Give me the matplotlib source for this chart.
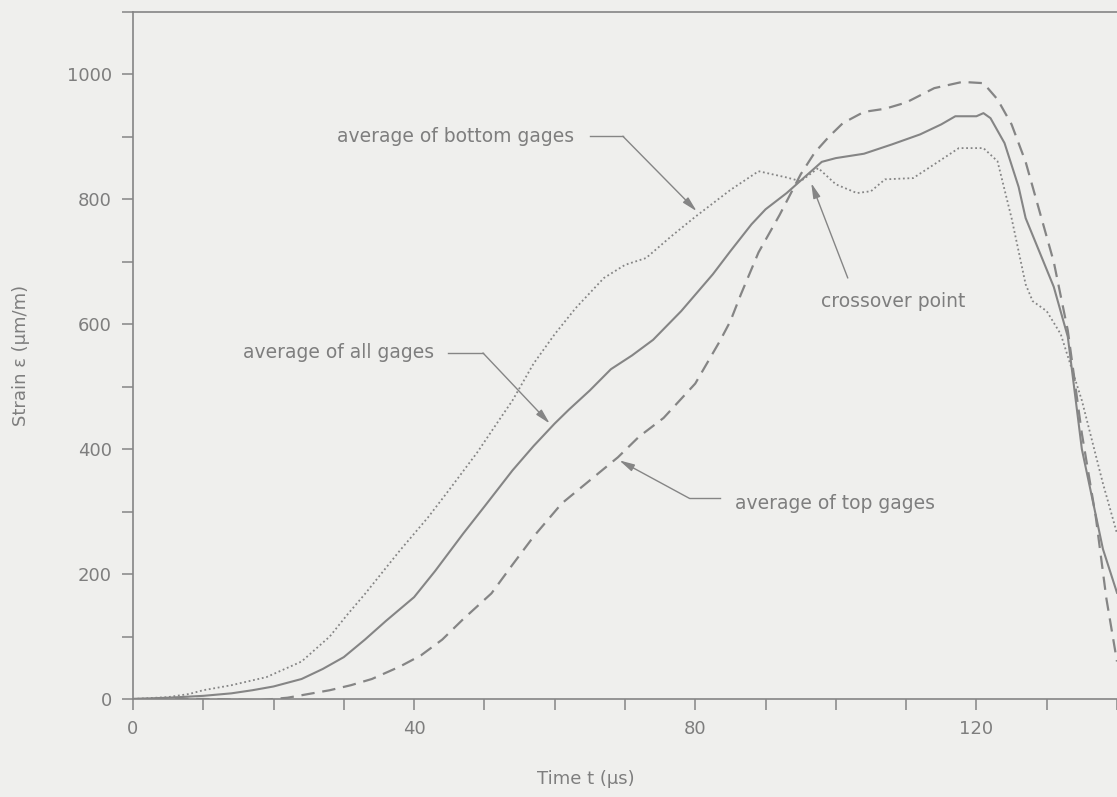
import matplotlib
matplotlib.use('Agg')
import matplotlib.pyplot as plt
from matplotlib.ticker import MultipleLocator, FuncFormatter

# average of all gages (solid)
t_all = [0, 5, 10, 14, 17, 20, 24, 27, 30, 33, 36, 40, 43, 47, 50, 54, 57, 60, 62, 65,
         68, 71, 74, 78, 82.5, 85, 88, 90, 93, 96, 98, 100, 104, 108, 112, 115, 117, 120, 121,
         122, 124, 126, 127, 129, 131, 133, 135, 138, 140]
eps_all = [0, 2, 5, 9, 14, 20, 32, 48, 67, 95, 125, 163, 205, 265, 308, 366, 405, 441, 463, 494,
           528, 550, 575, 621, 680, 717, 760, 784, 810, 840, 860, 866, 873, 888, 904, 920, 933, 933, 938,
           930, 890, 820, 770, 715, 660, 580, 400, 240, 170]

# average of top gages (dashed)
t_top = [0, 10, 18, 22, 25, 28, 31, 34, 38, 41, 44, 47, 51, 54, 57, 61, 65, 69, 72, 75.5,
         80, 83.5, 85, 86.5, 89, 92, 95, 97, 99, 101, 104, 107, 110, 114, 118, 121, 123, 125,
         127, 129, 131, 133, 135, 137, 138.5, 140]
eps_top = [0, 0, -2, 2, 8, 14, 22, 32, 52, 70, 95, 128, 169, 215, 260, 313, 350, 387, 420, 450,
           505, 573, 605, 648, 715, 775, 840, 875, 900, 922, 940, 945, 955, 978, 988, 986, 960, 920,
           860, 780, 700, 590, 425, 290, 160, 60]

# average of bottom gages (dotted)
t_bot = [0, 5, 8, 10, 14, 19, 24, 28, 30.5, 33, 38, 42, 45, 49, 52, 54, 57, 60, 63, 67,
         70, 73, 76.5, 80, 85, 89, 91, 93, 95, 97.5, 100, 103, 105, 107, 111, 114, 117.5, 121, 123,
         125, 127, 128, 130, 132, 135, 138, 140]
eps_bot = [0, 3, 8, 14, 22, 35, 60, 100, 135, 168, 238, 291, 335, 395, 445, 478, 537, 584, 626, 674,
           695, 706, 740, 772, 815, 845, 840, 835, 829, 850, 824, 810, 813, 832, 834, 856, 882, 882, 861,
           770, 664, 637, 621, 584, 478, 345, 265]

bg = '#efefed'
ink = '#858585'
txt = '#7e7e7e'

fig = plt.figure(figsize=(11.17, 7.97), dpi=100, facecolor=bg)
ax = fig.add_axes([0.119, 0.123, 0.881, 0.862], facecolor=bg)

ax.plot(t_all, eps_all, color=ink, lw=1.5, linestyle='-')
ax.plot(t_top, eps_top, color=ink, lw=1.6, linestyle=(0, (6, 3.5)))
ax.plot(t_bot, eps_bot, color=ink, lw=1.3, linestyle=(0, (1, 1.5)))

ax.set_xlim(0, 140)
ax.set_ylim(0, 1100)

ax.xaxis.set_major_locator(MultipleLocator(10))
ax.yaxis.set_major_locator(MultipleLocator(100))
ax.xaxis.set_major_formatter(FuncFormatter(lambda v, p: f'{v:.0f}' if round(v) % 40 == 0 else ''))
ax.yaxis.set_major_formatter(FuncFormatter(lambda v, p: f'{v:.0f}' if round(v) % 200 == 0 and v < 1050 else ''))
ax.tick_params(direction='out', length=8, width=1.1, color=ink, labelcolor=txt, labelsize=13, pad=7)

for side in ['left', 'bottom', 'top']:
    ax.spines[side].set_color(ink)
    ax.spines[side].set_linewidth(1.2)
ax.spines['right'].set_visible(False)

ax.set_xlabel('Time t (μs)', color=txt, fontsize=13)
ax.xaxis.set_label_coords(0.46, -0.103)
ax.set_ylabel('Strain ε (μm/m)', color=txt, fontsize=13)
ax.yaxis.set_label_coords(-0.105, 0.5)

arrow = dict(arrowstyle='-|>,head_length=0.9,head_width=0.22', color=ink, lw=1.0, shrinkA=0, shrinkB=0)
line_kw = dict(color=ink, lw=1.0)

# average of bottom gages
ax.text(62.8, 901, 'average of bottom gages', ha='right', va='center', color=txt, fontsize=13.5)
ax.plot([65, 69.7], [901, 901], **line_kw)
ax.annotate('', xy=(80.2, 781), xytext=(69.7, 901), arrowprops=arrow)

# average of all gages
ax.text(42.9, 554, 'average of all gages', ha='right', va='center', color=txt, fontsize=13.5)
ax.plot([44.8, 49.8], [554, 554], **line_kw)
ax.annotate('', xy=(59.3, 441), xytext=(49.8, 554), arrowprops=arrow)

# crossover point
ax.text(108.1, 637, 'crossover point', ha='center', va='center', color=txt, fontsize=13.5)
ax.annotate('', xy=(96.5, 826), xytext=(101.7, 674), arrowprops=arrow)

# average of top gages
ax.text(85.6, 313, 'average of top gages', ha='left', va='center', color=txt, fontsize=13.5)
ax.plot([79.2, 83.5], [321, 321], **line_kw)
ax.annotate('', xy=(69.2, 382), xytext=(79.2, 321), arrowprops=arrow)

fig.savefig('out.png', dpi=100, facecolor=bg)
